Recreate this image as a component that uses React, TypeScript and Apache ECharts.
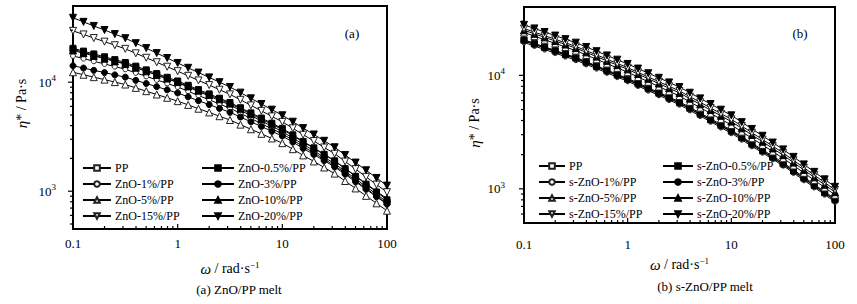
import React, { useEffect, useRef } from "react";
import * as echarts from "echarts";

// angular frequency, rad/s (10 points per decade)
const omega = [0.1, 0.126, 0.158, 0.2, 0.251, 0.316, 0.398, 0.501, 0.631, 0.794, 1, 1.26, 1.58, 2, 2.51, 3.16, 3.98, 5.01, 6.31, 7.94, 10, 12.6, 15.8, 20, 25.1, 31.6, 39.8, 50.1, 63.1, 79.4, 100];

// (a) ZnO/PP melt, complex viscosity Pa·s
const ppA = [20000, 18810, 17700, 16660, 15670, 14740, 13610, 12580, 11610, 10730, 9910, 9020, 8200, 7460, 6790, 6180, 5520, 4930, 4410, 3940, 3520, 3070, 2690, 2350, 2050, 1790, 1520, 1300, 1100, 937, 796];
const zno05A = [20460, 19280, 18160, 17100, 16110, 15170, 14030, 12970, 11990, 11090, 10260, 9370, 8550, 7810, 7130, 6510, 5830, 5230, 4690, 4200, 3770, 3290, 2860, 2500, 2180, 1900, 1610, 1370, 1160, 983, 834];
const zno1A = [17420, 16460, 15560, 14710, 13900, 13140, 12190, 11310, 10500, 9740, 9040, 8260, 7550, 6900, 6310, 5770, 5180, 4650, 4170, 3740, 3360, 2940, 2570, 2250, 1970, 1720, 1470, 1250, 1060, 904, 769];
const zno3A = [14160, 13490, 12850, 12250, 11670, 11120, 10400, 9730, 9100, 8510, 7960, 7340, 6760, 6230, 5740, 5290, 4790, 4330, 3920, 3540, 3210, 2820, 2470, 2170, 1905, 1670, 1430, 1220, 1040, 890, 760];
const zno5A = [12330, 11710, 11120, 10560, 10020, 9520, 8870, 8270, 7710, 7190, 6700, 6190, 5710, 5280, 4875, 4500, 4080, 3700, 3360, 3045, 2760, 2430, 2130, 1875, 1650, 1450, 1240, 1060, 906, 774, 662];
const zno10A = [19540, 18450, 17420, 16440, 15520, 14660, 13580, 12590, 11670, 10810, 10020, 9150, 8360, 7630, 6970, 6360, 5700, 5110, 4580, 4110, 3680, 3230, 2830, 2480, 2170, 1900, 1620, 1380, 1175, 1000, 853];
const zno15A = [29580, 27420, 25410, 23550, 21830, 20230, 18410, 16750, 15240, 13870, 12620, 11440, 10380, 9410, 8530, 7730, 6890, 6130, 5460, 4860, 4325, 3780, 3300, 2890, 2520, 2210, 1875, 1595, 1355, 1150, 980];
const zno20A = [38990, 35760, 32810, 30100, 27610, 25330, 22800, 20540, 18490, 16660, 15000, 13550, 12250, 11070, 10000, 9040, 8020, 7110, 6310, 5600, 4970, 4340, 3790, 3315, 2900, 2530, 2150, 1830, 1556, 1323, 1125];

// (b) s-ZnO/PP melt
const ppB = [20540, 19120, 17800, 16580, 15430, 14370, 13200, 12120, 11130, 10220, 9390, 8540, 7770, 7070, 6440, 5860, 5220, 4650, 4150, 3690, 3290, 2880, 2530, 2210, 1940, 1700, 1470, 1270, 1095, 946, 818];
const s05B = [20300, 18900, 17590, 16370, 15230, 14180, 13010, 11950, 10960, 10060, 9240, 8400, 7640, 6940, 6310, 5740, 5110, 4550, 4060, 3610, 3220, 2820, 2470, 2160, 1895, 1660, 1434, 1240, 1070, 925, 799];
const s1B = [19480, 18130, 16870, 15700, 14610, 13600, 12490, 11460, 10520, 9650, 8860, 8060, 7330, 6670, 6060, 5510, 4910, 4380, 3900, 3470, 3090, 2710, 2370, 2080, 1820, 1600, 1380, 1190, 1030, 889, 768];
const s3B = [20070, 18670, 17380, 16170, 15040, 14000, 12850, 11790, 10820, 9930, 9110, 8290, 7540, 6860, 6230, 5670, 5050, 4500, 4010, 3570, 3180, 2790, 2440, 2140, 1870, 1640, 1418, 1225, 1058, 914, 790];
const s5B = [23850, 22150, 20580, 19120, 17760, 16500, 15120, 13850, 12690, 11630, 10650, 9670, 8780, 7970, 7240, 6570, 5840, 5190, 4620, 4110, 3650, 3190, 2790, 2440, 2130, 1860, 1605, 1384, 1193, 1028, 886];
const s10B = [24970, 23230, 21600, 20090, 18680, 17380, 15940, 14620, 13410, 12300, 11290, 10260, 9320, 8470, 7700, 7000, 6230, 5550, 4940, 4400, 3910, 3415, 2980, 2600, 2270, 1980, 1703, 1466, 1262, 1086, 934];
const s15B = [25850, 24040, 22370, 20800, 19340, 17990, 16500, 15140, 13880, 12740, 11680, 10630, 9670, 8800, 8010, 7290, 6490, 5790, 5160, 4600, 4100, 3575, 3120, 2720, 2375, 2073, 1784, 1535, 1321, 1137, 978];
const s20B = [27830, 25890, 24080, 22400, 20840, 19390, 17790, 16320, 14970, 13740, 12600, 11470, 10440, 9510, 8660, 7880, 7025, 6265, 5590, 4980, 4440, 3870, 3370, 2935, 2556, 2226, 1912, 1642, 1411, 1212, 1041];

// axis ticks
const xMajor = [0.1, 1, 10, 100];
const xMinor = [0.2, 0.3, 0.4, 0.5, 0.6, 0.7, 0.8, 0.9, 2, 3, 4, 5, 6, 7, 8, 9, 20, 30, 40, 50, 60, 70, 80, 90];
const yMajor = [1000, 10000];
const yMinorA = [500, 600, 700, 800, 900, 2000, 3000, 4000, 5000, 6000, 7000, 8000, 9000, 20000, 30000, 40000];
const yMinorB = [600, 700, 800, 900, 2000, 3000, 4000, 5000, 6000, 7000, 8000, 9000, 20000, 30000];

const FONT = '"Liberation Serif", "Times New Roman", "DejaVu Serif", serif';

export default function App() {
  const ref = useRef<HTMLDivElement>(null);

  useEffect(() => {
    if (!ref.current) return;
    const chart = echarts.init(ref.current, null, { renderer: "svg" });

    const yMin = [450, 500];
    const yMax = [50000, 40000];

    const mk = (name: string, data: number[], symbol: string, filled: boolean, size: number, idx: number, rotate = 0) => ({
      type: "line",
      name,
      xAxisIndex: idx,
      yAxisIndex: idx,
      data: omega.map((w, i) => [w, data[i]]),
      symbol,
      symbolSize: size,
      symbolRotate: rotate,
      showSymbol: true,
      lineStyle: { color: "#000", width: 1 },
      itemStyle: { color: filled ? "#000" : "#fff", borderColor: filled ? "#000" : "#222", borderWidth: 1 },
      emphasis: { disabled: true },
      z: 3,
    });

    const tickSeries = (idx: number, vals: number[], dir: "x" | "y", len: number) => ({
      type: "custom",
      xAxisIndex: idx,
      yAxisIndex: idx,
      silent: true,
      clip: false,
      z: 5,
      data: vals.map((v) => (dir === "x" ? [v, yMin[idx]] : [0.1, v])),
      renderItem: (_p: any, api: any) => {
        const p = api.coord([api.value(0), api.value(1)]);
        const shape =
          dir === "x"
            ? { x1: p[0], y1: p[1], x2: p[0], y2: p[1] - len }
            : { x1: p[0], y1: p[1], x2: p[0] - len, y2: p[1] };
        return { type: "line", shape, style: { stroke: "#000", lineWidth: 1.2 } };
      },
    });

    const yLabel = (v: number) => {
      const e = Math.log10(v);
      if (Math.abs(e - Math.round(e)) < 1e-6) return `{b|10}{s|${Math.round(e)}}`;
      return "";
    };
    const xLabel = (v: number) => {
      const e = Math.log10(v);
      if (Math.abs(e - Math.round(e)) < 1e-6) return String(+v.toPrecision(6));
      return "";
    };

    const baseText = { fontFamily: FONT, fontSize: 13, color: "#000" };

    const xAxisCfg = (idx: number, margin: number, nameGap: number) => ({
      type: "log",
      logBase: 10,
      gridIndex: idx,
      min: 0.1,
      max: 100,
      axisLine: { show: false },
      axisTick: { show: false },
      splitLine: { show: false },
      axisLabel: { ...baseText, margin, formatter: xLabel },
      name: "{i|ω} / rad·s{s|−1}",
      nameLocation: "middle",
      nameGap,
      nameTextStyle: {
        ...baseText,
        fontSize: 14,
        rich: {
          i: { fontFamily: FONT, fontSize: 15, fontStyle: "italic", color: "#000" },
          s: { fontFamily: FONT, fontSize: 9, color: "#000", padding: [0, 0, 8, 0] },
        },
      },
    });

    const yAxisCfg = (idx: number, margin: number, nameGap: number, pad: number[]) => ({
      type: "log",
      logBase: 10,
      gridIndex: idx,
      min: yMin[idx],
      max: yMax[idx],
      axisLine: { show: false },
      axisTick: { show: false },
      splitLine: { show: false },
      axisLabel: {
        ...baseText,
        margin,
        formatter: yLabel,
        rich: {
          b: { fontFamily: FONT, fontSize: 13, color: "#000" },
          s: { fontFamily: FONT, fontSize: 9, color: "#000", padding: [0, 0, 8, 0] },
        },
      },
      name: "{i|η}* / Pa·s",
      nameLocation: "middle",
      nameGap,
      nameTextStyle: {
        ...baseText,
        fontSize: 14,
        padding: pad,
        rich: {
          i: { fontFamily: FONT, fontSize: 15, fontStyle: "italic", color: "#000" },
        },
      },
    });

    const legendCfg = (left: number, top: number, data: string[], itemWidth: number) => ({
      left,
      top,
      orient: "vertical",
      itemGap: 4,
      itemWidth,
      itemHeight: 7,
      selectedMode: false,
      textStyle: { fontFamily: FONT, fontSize: 12, color: "#000", padding: [0, 0, 0, -1] },
      data,
    });

    const option: any = {
      animation: false,
      backgroundColor: "#fff",
      textStyle: { fontFamily: FONT },
      grid: [
        { left: 73, top: 6, width: 314, height: 223, show: true, borderColor: "#000", borderWidth: 2, backgroundColor: "transparent" },
        { left: 524, top: 7, width: 311, height: 216, show: true, borderColor: "#000", borderWidth: 2, backgroundColor: "transparent" },
      ],
      xAxis: [xAxisCfg(0, 8, 31), xAxisCfg(1, 15, 33)],
      yAxis: [yAxisCfg(0, 17, 44, [0, 0, 0, 28]), yAxisCfg(1, 19, 42, [0, 16, 0, 0])],
      legend: [
        legendCfg(77, 157, ["PP", "ZnO-1%/PP", "ZnO-5%/PP", "ZnO-15%/PP"], 28),
        legendCfg(196, 157, ["ZnO-0.5%/PP", "ZnO-3%/PP", "ZnO-10%/PP", "ZnO-20%/PP"], 32),
        legendCfg(533, 155, ["PP", "s-ZnO-1%/PP", "s-ZnO-5%/PP", "s-ZnO-15%/PP"], 26),
        legendCfg(657, 155, ["s-ZnO-0.5%/PP", "s-ZnO-3%/PP", "s-ZnO-10%/PP", "s-ZnO-20%/PP"], 30),
      ],
      series: [
        mk("PP", ppA, "rect", false, 6, 0),
        mk("ZnO-0.5%/PP", zno05A, "rect", true, 6, 0),
        mk("ZnO-1%/PP", zno1A, "circle", false, 5, 0),
        mk("ZnO-3%/PP", zno3A, "circle", true, 6, 0),
        mk("ZnO-5%/PP", zno5A, "triangle", false, 7, 0),
        mk("ZnO-10%/PP", zno10A, "triangle", true, 7, 0),
        mk("ZnO-15%/PP", zno15A, "triangle", false, 7, 0, 180),
        mk("ZnO-20%/PP", zno20A, "triangle", true, 7, 0, 180),
        mk("PP", ppB, "rect", false, 6, 1),
        mk("s-ZnO-0.5%/PP", s05B, "rect", true, 6, 1),
        mk("s-ZnO-1%/PP", s1B, "circle", false, 5, 1),
        mk("s-ZnO-3%/PP", s3B, "circle", true, 6, 1),
        mk("s-ZnO-5%/PP", s5B, "triangle", false, 7, 1),
        mk("s-ZnO-10%/PP", s10B, "triangle", true, 7, 1),
        mk("s-ZnO-15%/PP", s15B, "triangle", false, 7, 1, 180),
        mk("s-ZnO-20%/PP", s20B, "triangle", true, 7, 1, 180),
        tickSeries(0, xMajor, "x", 5),
        tickSeries(0, xMinor, "x", 3),
        tickSeries(0, yMajor, "y", 5),
        tickSeries(0, yMinorA, "y", 3),
        tickSeries(1, xMajor, "x", 5),
        tickSeries(1, xMinor, "x", 3),
        tickSeries(1, yMajor, "y", 5),
        tickSeries(1, yMinorB, "y", 3),
      ],
      graphic: [
        { type: "text", x: 352, y: 33, style: { text: "(a)", font: `13px ${FONT}`, fill: "#000", textAlign: "center", textVerticalAlign: "middle" } },
        { type: "text", x: 800, y: 33, style: { text: "(b)", font: `13px ${FONT}`, fill: "#000", textAlign: "center", textVerticalAlign: "middle" } },
        { type: "text", x: 239, y: 289, style: { text: "(a) ZnO/PP melt", font: `13px ${FONT}`, fill: "#000", textAlign: "center", textVerticalAlign: "middle" } },
        { type: "text", x: 705, y: 286, style: { text: "(b) s-ZnO/PP melt", font: `13px ${FONT}`, fill: "#000", textAlign: "center", textVerticalAlign: "middle" } },
      ],
    };

    chart.setOption(option);
    return () => chart.dispose();
  }, []);

  return (
    <div
      ref={ref}
      style={{ position: "absolute", left: 0, top: 0, width: 857, height: 304, background: "#fff" }}
    />
  );
}
